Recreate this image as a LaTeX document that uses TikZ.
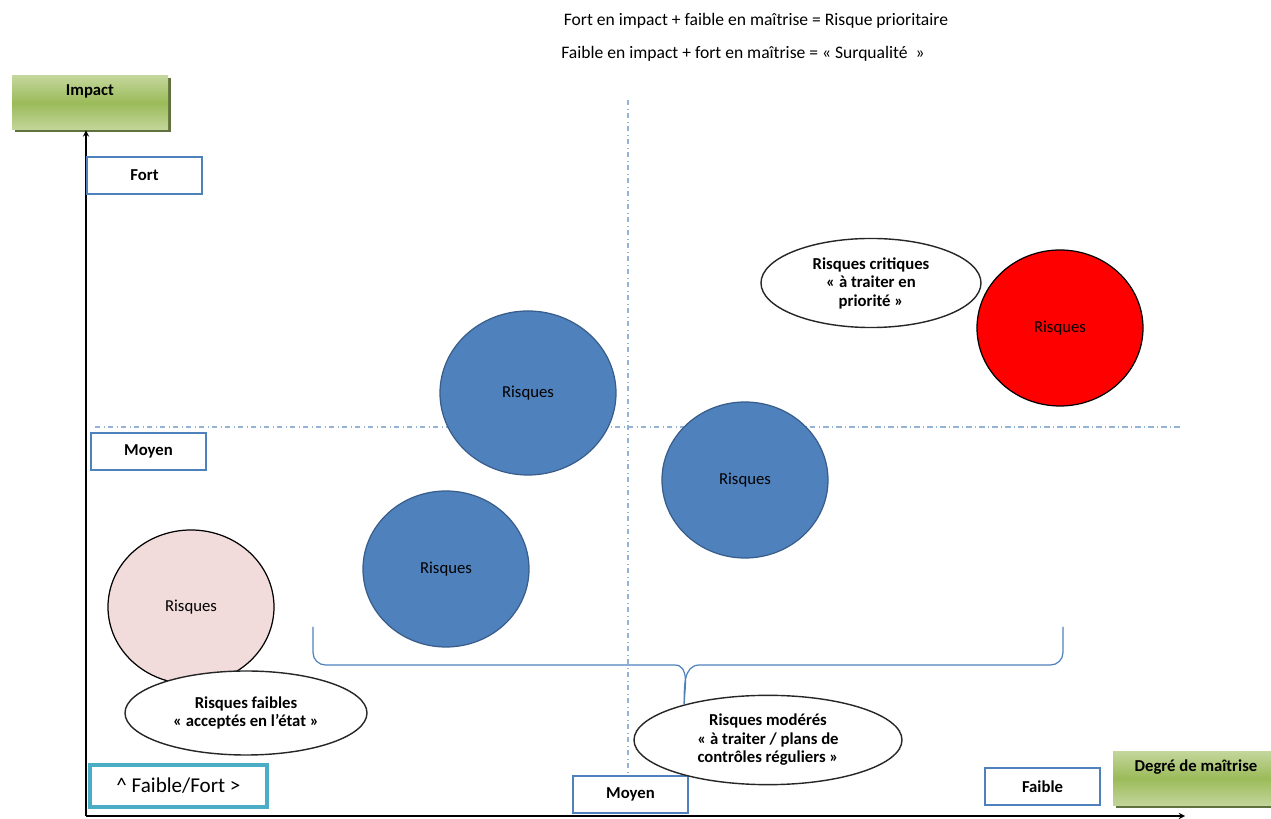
\documentclass[tikz,border=0pt]{standalone}
\usepackage{fontspec}
\setmainfont{Carlito}
\usepackage{tikz}
\usetikzlibrary{shapes, arrows.meta, positioning, calc, shadows}
\definecolor{bordbleu}{HTML}{4F81BD}
\definecolor{bordrisque}{HTML}{385D8A}
\definecolor{vertclair}{HTML}{C3D69B}
\definecolor{vertmoyen}{HTML}{9BBB59}
\definecolor{vertfonce}{HTML}{4F6228}
\definecolor{cyanbord}{HTML}{4BACC6}
\definecolor{roserisque}{HTML}{F2DCDB}
\definecolor{pointille}{HTML}{95B3D7}
\tikzset{
    regle/.style={font=\fontsize{10}{12}\selectfont, inner sep=1pt},
    titre/.style={
        rectangle, top color=vertclair, bottom color=vertclair, middle color=vertmoyen,
        drop shadow={shadow xshift=0.05cm, shadow yshift=-0.05cm, fill=vertfonce, opacity=0.9},
        font=\fontsize{9.5}{11}\selectfont\bfseries,
        text height=0.30cm, text depth=0.58cm, inner sep=0.1cm, align=center
    },
    niveau/.style={
        rectangle, draw=bordbleu, line width=1.2pt, fill=white,
        minimum width=2.30cm, minimum height=0.74cm,
        font=\fontsize{9.5}{11}\selectfont\bfseries
    },
    legende/.style={
        rectangle, draw=cyanbord, line width=2.2pt, fill=white,
        minimum width=3.54cm, minimum height=0.84cm,
        font=\fontsize{12}{14}\selectfont
    },
    risque/.style={ellipse, draw, line width=0.7pt, font=\fontsize{9.5}{11}\selectfont},
    bleu/.style={risque, fill=bordbleu, draw=bordrisque},
    bulle/.style={
        ellipse, draw=black!85, line width=0.8pt, fill=white, align=center,
        font=\fontsize{9.5}{10.5}\selectfont\bfseries
    },
    grille/.style={draw=pointille, dash dot, line width=0.8pt},
    accolade/.style={draw=bordbleu, line width=0.7pt},
    axe/.style={draw, ->, >=stealth, line width=0.6pt}
}
\begin{document}
\begin{tikzpicture}[auto]
    \useasboundingbox (0,0) rectangle (25.42,-16.38);
    % regles
    \node (regle1) at (15.12,-0.42) [regle] {Fort en impact + faible en maîtrise = Risque prioritaire};
    \node (regle2) at (14.86,-1.08) [regle] {Faible en impact + fort en maîtrise = « Surqualité~~»};

    % quadrillage
    \draw [grille] (12.56,-2.0) -- (12.56,-15.50);
    \draw [grille] (1.90,-8.54) -- (23.60,-8.54);

    % axes
    \node (impact) at (1.80,-2.06) [titre, minimum width=3.12cm] {Impact};
    \node (degre) at (23.92,-15.57) [titre, minimum width=3.32cm] {Degré de maîtrise};
    \coordinate (origine) at (1.72,-16.32);
    \coordinate (finx) at (23.70,-16.32);
    \draw [axe] (origine) -- (origine |- impact.south);
    \draw [axe] (origine) -- (finx);

    \node (fort) at (2.89,-3.51) [niveau] {Fort};
    \node (moyenI) at (2.97,-9.03) [niveau] {Moyen};
    \node (moyenM) at (12.61,-15.89) [niveau] {Moyen};
    \node (faible) at (20.85,-15.73) [niveau] {Faible};
    \node (echelle) at (3.57,-15.72) [legende] {\textasciicircum{} Faible/Fort >};

    % risques
    \node (r1) at (10.56,-7.86) [bleu, minimum width=3.52cm, minimum height=3.28cm] {Risques};
    \node (r2) at (14.90,-9.60) [bleu, minimum width=3.32cm, minimum height=3.12cm] {Risques};
    \node (r3) at (8.92,-11.38) [bleu, minimum width=3.32cm, minimum height=3.12cm] {Risques};
    \node (r4) at (3.82,-12.14) [risque, fill=roserisque, minimum width=3.32cm, minimum height=3.08cm] {Risques};
    \node (r5) at (21.20,-6.56) [risque, fill=red, minimum width=3.32cm, minimum height=3.12cm] {Risques};

    \node (critiques) at (17.42,-5.66) [bulle, minimum width=4.40cm, minimum height=1.68cm] {Risques critiques\\« à traiter en\\priorité »};
    \node (faibles) at (4.92,-14.26) [bulle, minimum width=4.84cm, minimum height=1.68cm] {Risques faibles\\« acceptés en l’état »};
    \node (moderes) at (15.36,-14.80) [bulle, minimum width=5.36cm, minimum height=1.72cm] {Risques modérés\\« à traiter / plans de\\contrôles réguliers »};

    % accolade
    \draw [accolade] (6.26,-12.54) -- (6.26,-13.05) to[out=-90,in=180] (6.51,-13.30)
        -- (13.49,-13.30) to[out=0,in=90] (moderes.157);
    \draw [accolade] (moderes.157) to[out=90,in=180] (13.99,-13.30)
        -- (21.01,-13.30) to[out=0,in=-90] (21.26,-13.05) -- (21.26,-12.54);
\end{tikzpicture}
\end{document}
